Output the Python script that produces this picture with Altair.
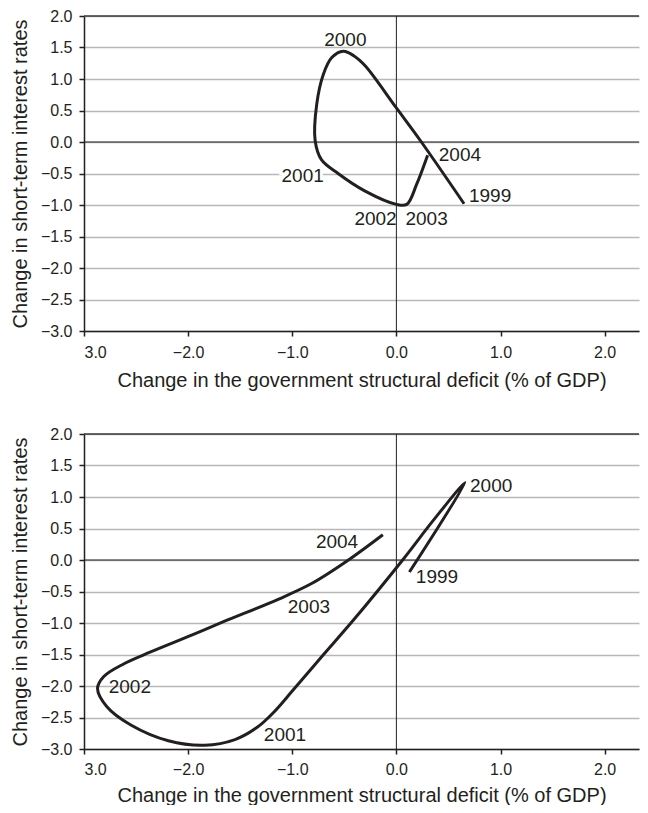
import altair as alt
import pandas as pd

# ---- data ----
# Upper panel: curve traced from 1999 to 2004
TOP_X = [0.65, 0.24, 0.00, -0.30, -0.41, -0.51, -0.62, -0.70, -0.765, -0.78, -0.72, -0.56, -0.30, 0.00, 0.10, 0.195, 0.30]
TOP_Y = [-0.98, 0.00, 0.54, 1.21, 1.37, 1.44, 1.34, 1.08, 0.60, 0.02, -0.28, -0.50, -0.78, -0.99, -0.99, -0.67, -0.21]
TOP_YEARS = ["2000", "2001", "2002", "2003", "2004", "1999"]
TOP_LX = [-0.49, -0.90, -0.20, 0.29, 0.61, 0.90]
TOP_LY = [1.62, -0.54, -1.23, -1.23, -0.20, -0.85]
TOP_HALO = ["2001"]

# Lower panel: curve traced from 1999 to 2004
BOT_X = [0.125, 0.66, 0.36, 0.06, -0.40, -0.72, -1.00, -1.18, -1.34, -1.55, -1.84, -2.19, -2.55, -2.78, -2.87, -2.81, -2.62, -2.36, -1.96, -1.66, -1.13, -0.81, -0.46, -0.13]
BOT_Y = [-0.19, 1.23, 0.64, 0.00, -0.93, -1.54, -2.08, -2.42, -2.66, -2.85, -2.94, -2.87, -2.62, -2.33, -2.04, -1.85, -1.65, -1.46, -1.19, -0.98, -0.62, -0.37, 0.00, 0.40]
BOT_YEARS = ["2000", "1999", "2004", "2003", "2002", "2001"]
BOT_LX = [0.91, 0.39, -0.57, -0.84, -2.56, -1.07]
BOT_LY = [1.17, -0.265, 0.29, -0.74, -2.02, -2.78]
BOT_HALO = ["2003"]

X_TICKS = [-3, -2, -1, 0, 1, 2]
Y_TICKS = [-3, -2.5, -2, -1.5, -1, -0.5, 0, 0.5, 1, 1.5, 2]
X_TITLE = "Change in the government structural deficit (% of GDP)"
Y_TITLE = "Change in short-term interest rates"

FONT = "Liberation Sans"
INK = "#231f20"


def panel(cx, cy, years, lx, ly, halo, label_pad, title_pad):
    curve = pd.DataFrame({"x": cx, "y": cy, "order": list(range(len(cx)))})
    labels = pd.DataFrame({"year": years, "x": lx, "y": ly})

    X = alt.X(
        "x:Q",
        scale=alt.Scale(domain=[-3, 2.33], nice=False, zero=False),
        axis=alt.Axis(
            values=X_TICKS,
            labelExpr="datum.value == -3 ? '3.0' : format(datum.value, '.1f')",
            grid=False,
            title=X_TITLE,
            labelPadding=label_pad,
            titlePadding=title_pad,
        ),
    )
    Y = alt.Y(
        "y:Q",
        scale=alt.Scale(domain=[-3, 2], nice=False, zero=False),
        axis=alt.Axis(
            values=Y_TICKS,
            format=".1f",
            grid=True,
            title=Y_TITLE,
            labelPadding=7,
            titlePadding=10,
        ),
    )

    line = alt.Chart(curve).mark_line(
        interpolate="catmull-rom", color=INK, strokeWidth=3
    ).encode(x=X, y=Y, order="order:Q")

    vrule = alt.Chart(pd.DataFrame({"x": [0]})).mark_rule(
        color=INK, strokeWidth=1
    ).encode(x=X)
    hrule = alt.Chart(pd.DataFrame({"y": [0]})).mark_rule(
        color=INK, strokeWidth=1
    ).encode(y=Y)
    top = alt.Chart(pd.DataFrame({"y": [2]})).mark_rule(
        color="#3a3a3a", strokeWidth=1.5
    ).encode(y=Y)

    halo_txt = alt.Chart(labels).transform_filter(
        alt.FieldOneOfPredicate(field="year", oneOf=halo)
    ).mark_text(
        font=FONT, fontSize=19, color="white", stroke="white", strokeWidth=6
    ).encode(x=X, y=Y, text="year:N")

    txt = alt.Chart(labels).mark_text(
        font=FONT, fontSize=19, color=INK
    ).encode(x=X, y=Y, text="year:N")

    return alt.layer(hrule, top, vrule, halo_txt, line, txt).properties(
        width=555, height=315
    )


chart = alt.vconcat(
    panel(TOP_X, TOP_Y, TOP_YEARS, TOP_LX, TOP_LY, TOP_HALO, 8, 10),
    panel(BOT_X, BOT_Y, BOT_YEARS, BOT_LX, BOT_LY, BOT_HALO, 7, 8),
    spacing=36,
).properties(
    padding={"left": 2, "top": 0, "right": 0, "bottom": 0}
).configure_view(
    strokeWidth=0
).configure_axis(
    domainColor=INK,
    domainWidth=1.5,
    tickColor=INK,
    tickWidth=1.5,
    tickSize=5,
    labelFont=FONT,
    labelFontSize=16,
    labelColor=INK,
    titleFont=FONT,
    titleFontSize=20,
    titleFontWeight="normal",
    titleColor=INK,
    gridColor="#b8b8b8",
    gridWidth=1.5,
)

chart.save("out.html", embed_options={"renderer": "svg", "actions": False})
